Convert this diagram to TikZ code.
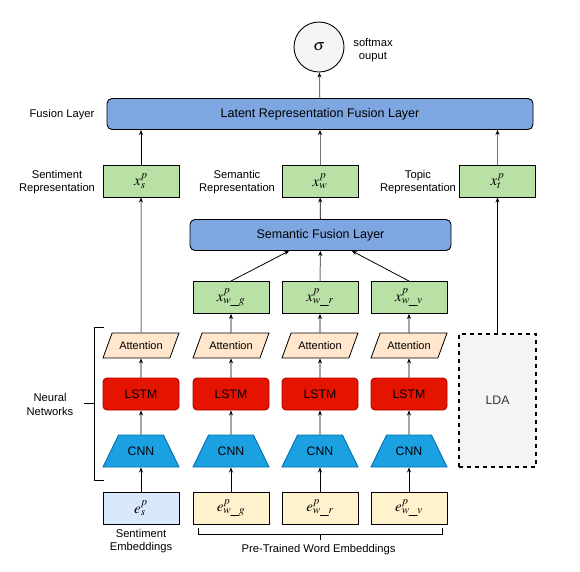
\documentclass[tikz,border=0pt]{standalone}
\usepackage{mathptmx}
\usepackage{fontspec}
\setmainfont{Liberation Sans}
\usetikzlibrary{shapes.geometric,arrows.meta,calc}

\definecolor{repgreen}{HTML}{B9E0A5}
\definecolor{fuseblue}{HTML}{7EA6E0}
\definecolor{attpeach}{HTML}{FFE6CC}
\definecolor{lstmred}{HTML}{E51400}
\definecolor{lstmline}{HTML}{B20000}
\definecolor{cnnblue}{HTML}{1BA1E2}
\definecolor{cnnline}{HTML}{006EAF}
\definecolor{sentblue}{HTML}{DAE8FC}
\definecolor{wordyellow}{HTML}{FFF2CC}
\definecolor{ldagray}{HTML}{F5F5F5}

\begin{document}
\begin{tikzpicture}[x=1pt,y=-1pt,
	lbl/.style={font=\fontsize{11.2}{13.5}\selectfont, align=center, inner sep=0pt},
	box/.style={draw, line width=0.9pt, minimum width=76pt, minimum height=32pt, inner sep=1pt, font=\fontsize{15}{17}\selectfont},
	rep/.style={box, fill=repgreen},
	fuse/.style={draw, line width=0.9pt, fill=fuseblue, rounded corners=5pt, minimum height=31pt, inner sep=1pt, font=\fontsize{12.5}{14}\selectfont},
	att/.style={draw, line width=0.8pt, fill=attpeach, trapezium, trapezium left angle=70, trapezium right angle=110, minimum width=0pt, minimum height=0pt, text width=57.8pt, align=center, text height=8pt, text depth=0pt, inner xsep=0pt, inner ysep=8.5pt, font=\fontsize{11}{13}\selectfont},
	lstm/.style={draw=lstmline, line width=0.9pt, fill=lstmred, rounded corners=4pt, minimum width=76pt, minimum height=32pt, inner sep=1pt, font=\fontsize{12.3}{14}\selectfont},
	cnn/.style={draw=cnnline, line width=0.9pt, fill=cnnblue, trapezium, trapezium left angle=64, trapezium right angle=64, minimum width=0pt, minimum height=0pt, text width=44.8pt, align=center, text height=9pt, text depth=0pt, inner xsep=0pt, inner ysep=11.5pt, font=\fontsize{12.3}{14}\selectfont},
	arr/.style={-{Stealth[length=5pt,width=4pt]}, line width=0.8pt},
	garr/.style={-{Stealth[length=5pt,width=4pt,black]}, draw=black!55, line width=1pt}]

	\useasboundingbox (0,0) rectangle (580,571);

	% output
	\node[circle, draw, line width=0.9pt, fill=ldagray, minimum size=50pt, font=\fontsize{16}{18}\selectfont] (sig) at (319,47) {$\sigma$};
	\node[lbl] (softlbl) at (373,50) {softmax\\ouput};

	\node[fuse, minimum width=426pt] (latent) at (320,114) {Latent Representation Fusion Layer};
	\node[lbl] (fuselbl) at (62,115) {Fusion Layer};

	% representations
	\node[rep] (xs) at (141,181) {$x^{p}_{s}$};
	\node[rep] (xw) at (320,181) {$x^{p}_{w}$};
	\node[rep] (xt) at (497.5,181) {$x^{p}_{t}$};
	\node[lbl] (sentlbl) at (57,182) {Sentiment\\Representation};
	\node[lbl] (semlbl) at (237,182) {Semantic\\Representation};
	\node[lbl] (toplbl) at (418,182) {Topic\\Representation};

	\node[fuse, minimum width=261pt] (sem) at (320.5,235) {Semantic Fusion Layer};

	\node[rep] (xwg) at (231,297.5) {$x^{p}_{w\_g}$};
	\node[rep] (xwr) at (320,297.5) {$x^{p}_{w\_r}$};
	\node[rep] (xwv) at (409,297.5) {$x^{p}_{w\_v}$};

	% neural networks
	\foreach \n/\x in {1/141,2/231,3/320,4/409}{
		\node[att] (att\n) at (\x,345.5) {Attention};
		\node[lstm] (lstm\n) at (\x,394) {LSTM};
		\node[cnn] (cnn\n) at (\x,451) {CNN};
	}

	\node[draw, line width=2pt, dash pattern=on 4pt off 4pt, fill=ldagray, minimum width=77pt, minimum height=133pt, text=black!80, font=\fontsize{12.3}{14}\selectfont] (lda) at (497.5,400.5) {LDA};

	% embeddings
	\node[box, fill=sentblue] (es) at (141,508) {$e^{p}_{s}$};
	\node[box, fill=wordyellow] (ewg) at (231,508) {$e^{p}_{w\_g}$};
	\node[box, fill=wordyellow] (ewr) at (320,508) {$e^{p}_{w\_r}$};
	\node[box, fill=wordyellow] (ewv) at (409,508) {$e^{p}_{w\_v}$};

	\node[lbl] (selbl) at (141,541) {Sentiment\\Embeddings};
	\node[lbl] (pwlbl) at (318.5,550) {Pre-Trained Word Embeddings};
	\node[lbl] (nnlbl) at (50,404.5) {Neural\\Networks};

	% brackets
	\draw[line width=0.9pt] (104,327) -| (94,480) -- (104,480);
	\draw[line width=0.9pt] (84,403) -- (94,403);
	\draw[line width=0.9pt] (198,528) |- (442,534) -- (442,528);
	\draw[line width=0.9pt] (320,534) -- (320,540);

	% arrows
	\draw[arr] (es) -- (cnn1);
	\draw[arr] (ewg) -- (cnn2);
	\draw[arr] (ewr) -- (cnn3);
	\draw[arr] (ewv) -- (cnn4);
	\foreach \n in {1,2,3,4}{
		\draw[arr] (cnn\n) -- (lstm\n);
		\draw[arr] (lstm\n) -- (att\n);
	}
	\draw[garr] (att1) -- (xs);
	\draw[arr] (att2) -- (xwg);
	\draw[arr] (att3) -- (xwr);
	\draw[arr] (att4) -- (xwv);

	\draw[arr] (xwg.north) -- ($(sem.south west)!0.38!(sem.south east)$);
	\draw[garr] (xwr) -- (sem);
	\draw[arr] (xwv.north) -- ($(sem.south west)!0.62!(sem.south east)$);
	\draw[arr] (sem) -- (xw);

	\draw[arr] (lda) -- (xt);
	\draw[arr] (xs) -- (xs |- latent.south);
	\draw[garr] (xw) -- (latent);
	\draw[garr] (xt) -- (xt |- latent.south);
	\draw[garr] (latent) -- (sig);
\end{tikzpicture}
\end{document}
